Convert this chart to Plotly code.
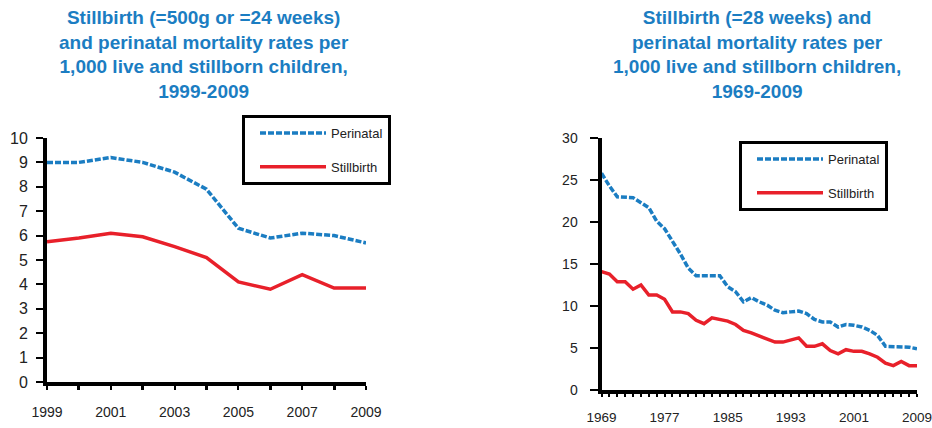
import plotly.graph_objects as go

# ---- data ----
years_a = list(range(1999, 2010))
perinatal_a = [9.0, 9.0, 9.2, 9.0, 8.6, 7.9, 6.3, 5.9, 6.1, 6.0, 5.7]
stillbirth_a = [5.75, 5.9, 6.1, 5.95, 5.55, 5.1, 4.1, 3.8, 4.4, 3.85, 3.85]

years_b = list(range(1969, 2010))
perinatal_b = [25.8, 24.3, 23.0, 23.0, 22.9, 22.3, 21.7, 20.1, 19.2, 17.7, 16.2,
               14.5, 13.6, 13.6, 13.6, 13.6, 12.3, 11.7, 10.5, 11.0, 10.5, 10.1,
               9.5, 9.2, 9.3, 9.4, 9.1, 8.4, 8.1, 8.1, 7.5, 7.8, 7.7, 7.5, 7.1,
               6.5, 5.2, 5.2, 5.2, 5.1, 4.9]
stillbirth_b = [14.1, 13.8, 12.9, 12.9, 12.0, 12.5, 11.3, 11.3, 10.8, 9.3, 9.3,
                9.1, 8.3, 7.9, 8.6, 8.4, 8.2, 7.8, 7.1, 6.8, 6.4, 6.1, 5.7, 5.7,
                6.0, 6.2, 5.2, 5.2, 5.5, 4.7, 4.3, 4.8, 4.6, 4.6, 4.3, 3.9, 3.2,
                2.9, 3.4, 2.9, 2.9]

title_a = "Stillbirth (=500g or =24 weeks)<br>and perinatal mortality rates per<br>1,000 live and stillborn children,<br>1999-2009"
title_b = "Stillbirth (=28 weeks) and<br>perinatal mortality rates per<br>1,000 live and stillborn children,<br>1969-2009"

BLUE = "#1b7dc2"
RED = "#e8202a"
FONT = "Liberation Sans, Arial, sans-serif"
W, H = 932, 428

def px_x(p):
    return p / W

def px_y(p):
    return 1 - p / H

fig = go.Figure()

fig.add_trace(go.Scatter(x=years_a, y=perinatal_a, name="Perinatal", mode="lines",
                         line=dict(color=BLUE, width=3.5, dash="6px,2px"),
                         xaxis="x", yaxis="y", legend="legend", legendgroup="a1"))
fig.add_trace(go.Scatter(x=years_a, y=stillbirth_a, name="Stillbirth", mode="lines",
                         line=dict(color=RED, width=3.5),
                         xaxis="x", yaxis="y", legend="legend", legendgroup="a2"))
fig.add_trace(go.Scatter(x=years_b, y=perinatal_b, name="Perinatal", mode="lines",
                         line=dict(color=BLUE, width=3.5, dash="6px,2px"),
                         xaxis="x2", yaxis="y2", legend="legend2", legendgroup="b1"))
fig.add_trace(go.Scatter(x=years_b, y=stillbirth_b, name="Stillbirth", mode="lines",
                         line=dict(color=RED, width=3.5),
                         xaxis="x2", yaxis="y2", legend="legend2", legendgroup="b2"))

axis_common = dict(showgrid=False, zeroline=False, showline=True, linecolor="black",
                   linewidth=4, ticks="outside", tickcolor="black", tickwidth=2,
                   automargin=False, ticklabeloverflow="allow")

fig.update_layout(
    width=W, height=H,
    margin=dict(l=0, r=0, t=0, b=0, autoexpand=False),
    paper_bgcolor="white", plot_bgcolor="white",
    xaxis=dict(domain=[px_x(47), px_x(366)], range=[1999, 2009], tick0=1999, dtick=2,
               ticklen=4, ticklabelstandoff=10, anchor="y",
               tickfont=dict(family=FONT, size=14, color="#222222"),
               minor=dict(dtick=1, ticks="outside", ticklen=4, tickcolor="black", tickwidth=3),
               **axis_common),
    yaxis=dict(domain=[px_y(382), px_y(138)], range=[0, 10], dtick=1, ticklen=7,
               ticklabelstandoff=5, anchor="x",
               tickfont=dict(family=FONT, size=16, color="#222222"),
               **axis_common),
    xaxis2=dict(domain=[px_x(601.5), px_x(917)], range=[1969, 2009], tick0=1969, dtick=8,
                ticklen=3, ticklabelstandoff=9, anchor="y2",
                tickfont=dict(family=FONT, size=13.5, color="#222222"),
                minor=dict(dtick=1, ticks="outside", ticklen=3, tickcolor="black", tickwidth=2),
                **axis_common),
    yaxis2=dict(domain=[px_y(390), px_y(138)], range=[0, 30], dtick=5, ticklen=8,
                ticklabelstandoff=9, anchor="x2",
                tickfont=dict(family=FONT, size=14, color="#222222"),
                **axis_common),
    legend=dict(x=px_x(242), y=px_y(115), xanchor="left", yanchor="top",
                bordercolor="black", borderwidth=3, bgcolor="white",
                font=dict(family=FONT, size=13, color="#222222"),
                tracegroupgap=14, itemwidth=66, indentation=10, entrywidth=140),
    legend2=dict(x=px_x(739), y=px_y(141), xanchor="left", yanchor="top",
                 bordercolor="black", borderwidth=3, bgcolor="white",
                 font=dict(family=FONT, size=13, color="#222222"),
                 tracegroupgap=14, itemwidth=66, indentation=10, entrywidth=150),
    annotations=[
        dict(text=title_a, x=px_x(204), y=1 - 5 / H, xref="paper", yref="paper",
             xanchor="center", yanchor="top", showarrow=False, align="center",
             font=dict(family=FONT, size=19, color=BLUE, weight="bold")),
        dict(text=title_b, x=px_x(757), y=1 - 5 / H, xref="paper", yref="paper",
             xanchor="center", yanchor="top", showarrow=False, align="center",
             font=dict(family=FONT, size=19, color=BLUE, weight="bold")),
    ],
)

fig.write_html("out.html",
               config={"displayModeBar": False},
               post_script="document.body.style.margin='0';document.body.style.overflow='hidden';")
